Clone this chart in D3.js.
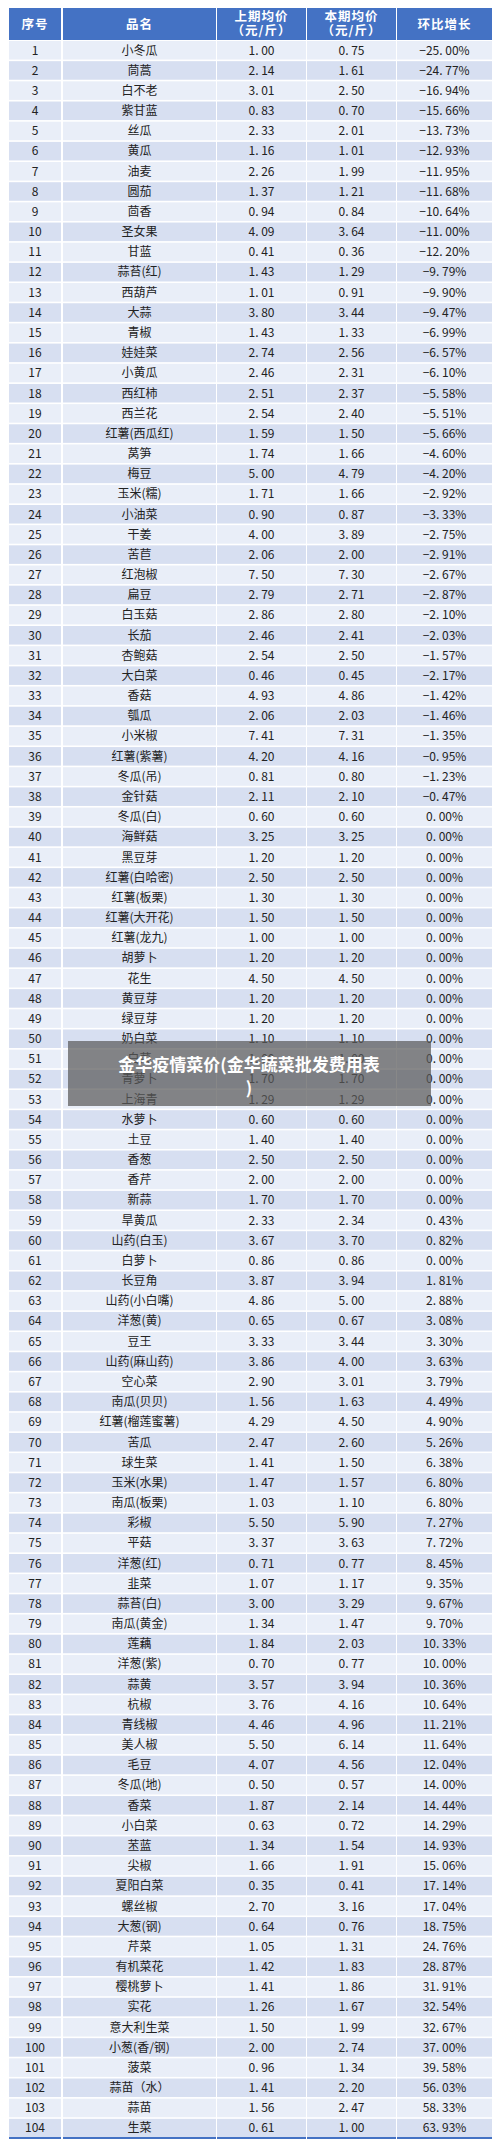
<!DOCTYPE html>
<html>
<head>
<meta charset="utf-8">
<script src="https://cdn.jsdelivr.net/npm/d3@7"></script>
<style>
body { margin: 0; background: #fff; }
svg text { font-family: "Noto Sans CJK SC", "Noto Sans", sans-serif; }
</style>
</head>
<body>
<svg id="chart" width="500" height="2147"></svg>
<script>
// table data
var headers = ["序号", "品名", "上期均价|（元/斤）", "本期均价|（元/斤）", "环比增长"];

var names = ["小冬瓜","茼蒿","白不老","紫甘蓝","丝瓜","黄瓜","油麦","圆茄","茴香","圣女果",
  "甘蓝","蒜苔(红)","西葫芦","大蒜","青椒","娃娃菜","小黄瓜","西红柿","西兰花","红薯(西瓜红)",
  "莴笋","梅豆","玉米(糯)","小油菜","干姜","苦苣","红泡椒","扁豆","白玉菇","长茄",
  "杏鲍菇","大白菜","香菇","瓠瓜","小米椒","红薯(紫薯)","冬瓜(吊)","金针菇","冬瓜(白)","海鲜菇",
  "黑豆芽","红薯(白哈密)","红薯(板栗)","红薯(大开花)","红薯(龙九)","胡萝卜","花生","黄豆芽","绿豆芽","奶白菜",
  "白菜","青萝卜","上海青","水萝卜","土豆","香葱","香芹","新蒜","旱黄瓜","山药(白玉)",
  "白萝卜","长豆角","山药(小白嘴)","洋葱(黄)","豆王","山药(麻山药)","空心菜","南瓜(贝贝)","红薯(榴莲蜜薯)","苦瓜",
  "球生菜","玉米(水果)","南瓜(板栗)","彩椒","平菇","洋葱(红)","韭菜","蒜苔(白)","南瓜(黄金)","莲藕",
  "洋葱(紫)","蒜黄","杭椒","青线椒","美人椒","毛豆","冬瓜(地)","香菜","小白菜","苤蓝",
  "尖椒","夏阳白菜","螺丝椒","大葱(钢)","芹菜","有机菜花","樱桃萝卜","实花","意大利生菜","小葱(香/钢)",
  "菠菜","蒜苗（水）","蒜苗","生菜"];

var lastPrice = [1.00,2.14,3.01,0.83,2.33,1.16,2.26,1.37,0.94,4.09,
  0.41,1.43,1.01,3.80,1.43,2.74,2.46,2.51,2.54,1.59,
  1.74,5.00,1.71,0.90,4.00,2.06,7.50,2.79,2.86,2.46,
  2.54,0.46,4.93,2.06,7.41,4.20,0.81,2.11,0.60,3.25,
  1.20,2.50,1.30,1.50,1.00,1.20,4.50,1.20,1.20,1.10,
  1.00,1.70,1.29,0.60,1.40,2.50,2.00,1.70,2.33,3.67,
  0.86,3.87,4.86,0.65,3.33,3.86,2.90,1.56,4.29,2.47,
  1.41,1.47,1.03,5.50,3.37,0.71,1.07,3.00,1.34,1.84,
  0.70,3.57,3.76,4.46,5.50,4.07,0.50,1.87,0.63,1.34,
  1.66,0.35,2.70,0.64,1.05,1.42,1.41,1.26,1.50,2.00,
  0.96,1.41,1.56,0.61];

var thisPrice = [0.75,1.61,2.50,0.70,2.01,1.01,1.99,1.21,0.84,3.64,
  0.36,1.29,0.91,3.44,1.33,2.56,2.31,2.37,2.40,1.50,
  1.66,4.79,1.66,0.87,3.89,2.00,7.30,2.71,2.80,2.41,
  2.50,0.45,4.86,2.03,7.31,4.16,0.80,2.10,0.60,3.25,
  1.20,2.50,1.30,1.50,1.00,1.20,4.50,1.20,1.20,1.10,
  1.00,1.70,1.29,0.60,1.40,2.50,2.00,1.70,2.34,3.70,
  0.86,3.94,5.00,0.67,3.44,4.00,3.01,1.63,4.50,2.60,
  1.50,1.57,1.10,5.90,3.63,0.77,1.17,3.29,1.47,2.03,
  0.77,3.94,4.16,4.96,6.14,4.56,0.57,2.14,0.72,1.54,
  1.91,0.41,3.16,0.76,1.31,1.83,1.86,1.67,1.99,2.74,
  1.34,2.20,2.47,1.00];

var growth = ["-25.00%","-24.77%","-16.94%","-15.66%","-13.73%","-12.93%","-11.95%","-11.68%","-10.64%","-11.00%",
  "-12.20%","-9.79%","-9.90%","-9.47%","-6.99%","-6.57%","-6.10%","-5.58%","-5.51%","-5.66%",
  "-4.60%","-4.20%","-2.92%","-3.33%","-2.75%","-2.91%","-2.67%","-2.87%","-2.10%","-2.03%",
  "-1.57%","-2.17%","-1.42%","-1.46%","-1.35%","-0.95%","-1.23%","-0.47%","0.00%","0.00%",
  "0.00%","0.00%","0.00%","0.00%","0.00%","0.00%","0.00%","0.00%","0.00%","0.00%",
  "0.00%","0.00%","0.00%","0.00%","0.00%","0.00%","0.00%","0.00%","0.43%","0.82%",
  "0.00%","1.81%","2.88%","3.08%","3.30%","3.63%","3.79%","4.49%","4.90%","5.26%",
  "6.38%","6.80%","6.80%","7.27%","7.72%","8.45%","9.35%","9.67%","9.70%","10.33%",
  "10.00%","10.36%","10.64%","11.21%","11.64%","12.04%","14.00%","14.44%","14.29%","14.93%",
  "15.06%","17.14%","17.04%","18.75%","24.76%","28.87%","31.91%","32.54%","32.67%","37.00%",
  "39.58%","56.03%","58.33%","63.93%"];

var colEdges = [9, 62, 216, 306, 396, 492];
var title = "金华疫情菜价(金华蔬菜批发费用表";

var svg = d3.select("#chart");

var rows = d3.range(names.length);
var y = d3.scaleBand().domain(rows).range([41, 2137]).paddingInner(0.1);
var x = d3.scaleBand().domain(d3.range(5)).range([9, 492]);
var colX = function(i) { return colEdges[i] + (i > 0 ? 1 : 0); };
var colW = function(i) { return colEdges[i + 1] - colEdges[i] - 1; };

function fmt(v) { return v.toFixed(2).replace(".", ". "); }
function fmtP(s) { return s.replace("-", "−").replace(".", ". "); }

// header
headers.forEach(function(h, i) {
  svg.append("rect").attr("x", colX(i)).attr("y", 8).attr("width", colW(i)).attr("height", 32)
    .attr("fill", "#4472c4");
  var parts = h.split("|");
  var cx = colX(i) + colW(i) / 2;
  parts.forEach(function(p, j) {
    svg.append("text").attr("x", cx)
      .attr("y", parts.length == 1 ? 29 : 21 + j * 14)
      .attr("text-anchor", "middle").attr("fill", "#fff")
      .attr("font-size", 12.5).attr("font-weight", "bold").attr("letter-spacing", 1)
      .text(p);
  });
});

// body
var g = svg.selectAll("g.row").data(rows).enter().append("g").attr("class", "row");
d3.range(5).forEach(function(i) {
  g.append("rect").attr("x", colX(i)).attr("y", d => y(d))
    .attr("width", colW(i)).attr("height", y.bandwidth() + 0.4)
    .attr("fill", d => d % 2 == 0 ? "#e9eef8" : "#d7dff1");
  g.append("text").attr("x", colX(i) + colW(i) / 2).attr("y", d => y(d) + y.bandwidth() / 2 + 4.5)
    .attr("text-anchor", "middle").attr("fill", "#222").attr("font-size", 12)
    .text(function(d) {
      if (i == 0) return d + 1;
      if (i == 1) return names[d];
      if (i == 2) return fmt(lastPrice[d]);
      if (i == 3) return fmt(thisPrice[d]);
      return fmtP(growth[d]);
    });
});

// bottom border
d3.range(5).forEach(function(i) {
  svg.append("rect").attr("x", colX(i)).attr("y", 2137).attr("width", colW(i)).attr("height", 2)
    .attr("fill", "#4472c4");
});

// caption overlay
svg.append("rect").attr("x", 68).attr("y", 1041).attr("width", 363).attr("height", 65)
  .attr("fill", "rgba(90,90,90,0.72)");
svg.append("text").attr("x", 249).attr("y", 1071).attr("text-anchor", "middle")
  .attr("fill", "#fff").attr("font-size", 17).attr("font-weight", "bold").text(title);
svg.append("text").attr("x", 249).attr("y", 1094).attr("text-anchor", "middle")
  .attr("fill", "#fff").attr("font-size", 17).attr("font-weight", "bold").text(")");
</script>
</body>
</html>
